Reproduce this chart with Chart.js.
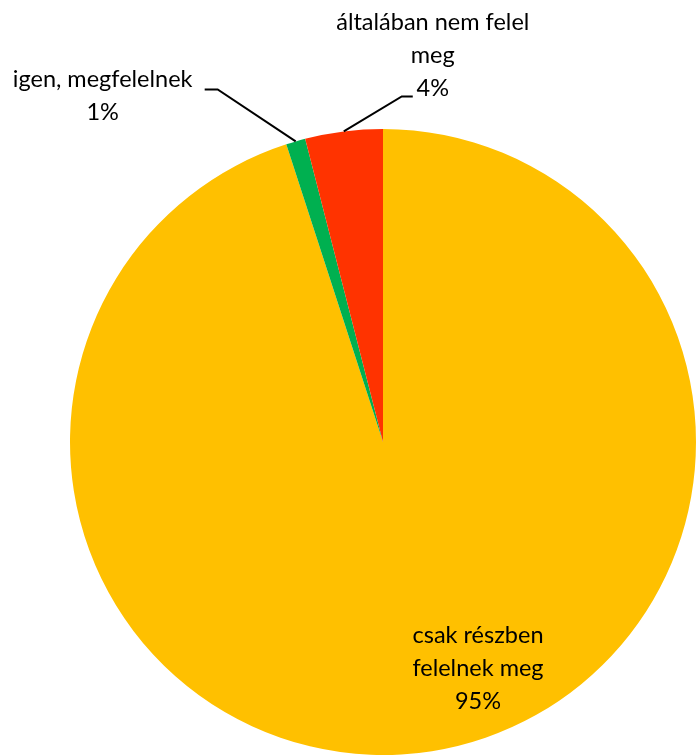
<!DOCTYPE html>
<html>
<head>
<meta charset="utf-8">
<script src="https://cdn.jsdelivr.net/npm/chart.js@4"></script>
<style>
  body { margin: 0; background: #fff; }
</style>
</head>
<body>
<canvas id="grafico" width="696" height="755"></canvas>
<script>
// categorias e valores (ordem no sentido horário a partir do topo)
const categorias = [
  ['csak részben', 'felelnek meg'],
  ['igen, megfelelnek'],
  ['általában nem felel', 'meg']
];
const valores = [95, 1, 4];
const rotulosPct = ['95%', '1%', '4%'];
const cores = ['#FFC000', '#00B050', '#FF3300'];

// posição dos rótulos relativa à borda da fatia (dx, dy do primeiro rótulo)
const rotuloCfg = [
  { dentro: true, dx: 95, dy: 193 },
  { dentro: false, cotovelo: [-78, -52], fim: [-91, -52], texto: [-193, -62] },
  { dentro: false, cotovelo: [58, -35], fim: [69, -35], texto: [89, -109] }
];

const fonte = '23.5px Lato, "Open Sans", sans-serif';
const alturaLinha = 33;

const rotulosPlugin = {
  id: 'rotulos',
  afterDatasetsDraw(chart) {
    const ctx = chart.ctx;
    const arcos = chart.getDatasetMeta(0).data;
    ctx.save();
    ctx.font = fonte;
    ctx.fillStyle = '#000';
    ctx.textAlign = 'center';
    ctx.textBaseline = 'middle';
    arcos.forEach((arco, i) => {
      const p = arco.getProps(['x', 'y', 'startAngle', 'endAngle', 'outerRadius'], true);
      const meio = (p.startAngle + p.endAngle) / 2;
      const linhas = categorias[i].concat([rotulosPct[i]]);
      const cfg = rotuloCfg[i];
      if (cfg.dentro) {
        const x = p.x + cfg.dx;
        const y = p.y + cfg.dy;
        linhas.forEach((l, k) => ctx.fillText(l, x, y + k * alturaLinha));
        return;
      }
      // ponto de ancoragem na borda da fatia
      const ax = p.x + Math.cos(meio) * p.outerRadius;
      const ay = p.y + Math.sin(meio) * p.outerRadius;
      ctx.strokeStyle = '#000';
      ctx.lineWidth = 2;
      ctx.beginPath();
      ctx.moveTo(ax, ay);
      ctx.lineTo(ax + cfg.cotovelo[0], ay + cfg.cotovelo[1]);
      ctx.lineTo(ax + cfg.fim[0], ay + cfg.fim[1]);
      ctx.stroke();
      const tx = ax + cfg.texto[0];
      const ty = ay + cfg.texto[1];
      linhas.forEach((l, k) => ctx.fillText(l, tx, ty + k * alturaLinha));
    });
    ctx.restore();
  }
};

new Chart(document.getElementById('grafico'), {
  type: 'pie',
  data: {
    labels: categorias.map(c => c.join(' ')),
    datasets: [{
      data: valores,
      backgroundColor: cores,
      borderWidth: 0
    }]
  },
  options: {
    responsive: false,
    animation: false,
    rotation: 0,
    layout: { padding: { top: 129, bottom: 0, left: 70, right: 0 } },
    plugins: {
      legend: { display: false },
      tooltip: { enabled: false }
    }
  },
  plugins: [rotulosPlugin]
});
</script>
</body>
</html>
